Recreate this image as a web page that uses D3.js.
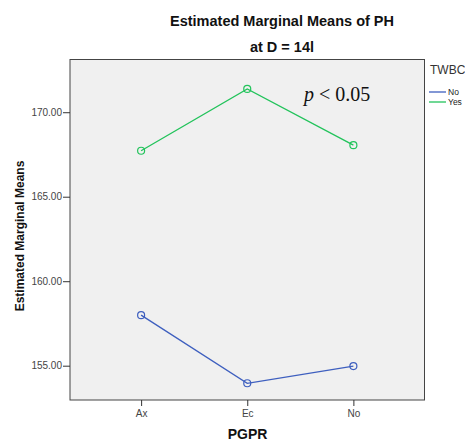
<!DOCTYPE html>
<html>
<head>
<meta charset="utf-8">
<script src="https://cdn.jsdelivr.net/npm/d3@7"></script>
<style>
  body { margin: 0; background: #fff; }
  text { font-family: Arial, "Liberation Sans", sans-serif; }
</style>
</head>
<body>
<svg id="chart" width="465" height="446"></svg>
<script>
const categories = ['Ax', 'Ec', 'No'];
const seriesNames = ['No', 'Yes'];
const seriesNo = [157.99, 153.96, 154.98];
const seriesYes = [167.72, 171.38, 168.05];
const yTicks = [155, 160, 165, 170];

const colors = {No: '#3e5fbf', Yes: '#22c35b'};

const svg = d3.select('#chart');
const plotL = 70, plotR = 424.5, plotT = 59.5, plotB = 400;

const x = d3.scalePoint().domain(categories).range([plotL, plotR]).padding(0.67);
const y = d3.scaleLinear().domain([152.97, 173.12]).range([plotB, plotT]);

svg.append('rect')
  .attr('x', plotL).attr('y', plotT)
  .attr('width', plotR - plotL).attr('height', plotB - plotT)
  .attr('fill', '#f0f0f0')
  .attr('stroke', '#444').attr('stroke-width', 1);

// axes
const yAxis = svg.append('g')
  .attr('transform', `translate(${plotL},0)`)
  .call(d3.axisLeft(y).tickValues(yTicks).tickFormat(d3.format('.2f')).tickSize(7).tickSizeOuter(0));
const xAxis = svg.append('g')
  .attr('transform', `translate(0,${plotB})`)
  .call(d3.axisBottom(x).tickSize(6).tickSizeOuter(0));

[xAxis, yAxis].forEach(g => {
  g.select('.domain').remove();
  g.selectAll('line').attr('stroke', '#333');
  g.selectAll('text').attr('fill', '#444').style('font-size', '10px')
    .style('font-family', 'Arial, "Liberation Sans", sans-serif');
});
yAxis.selectAll('text').attr('x', -8);
xAxis.selectAll('text').attr('y', 10);

// lines
const line = d3.line().x((d, i) => x(categories[i])).y(d => y(d));
const data = [
  {name: 'No', values: seriesNo},
  {name: 'Yes', values: seriesYes}
];

data.forEach(s => {
  svg.append('path')
    .attr('d', line(s.values))
    .attr('fill', 'none')
    .attr('stroke', colors[s.name])
    .attr('stroke-width', 1.3);
  svg.selectAll(null)
    .data(s.values)
    .join('circle')
    .attr('cx', (d, i) => x(categories[i]))
    .attr('cy', d => y(d))
    .attr('r', 3.5)
    .attr('fill', 'none')
    .attr('stroke', colors[s.name])
    .attr('stroke-width', 1.2);
});

// titles
svg.append('text').attr('x', 282).attr('y', 26).attr('text-anchor', 'middle')
  .style('font-size', '14.5px').style('font-weight', 'bold').attr('fill', '#111')
  .text('Estimated Marginal Means of PH');
svg.append('text').attr('x', 282).attr('y', 52).attr('text-anchor', 'middle')
  .style('font-size', '14.5px').style('font-weight', 'bold').attr('fill', '#111')
  .text('at D = 14l');

svg.append('text').attr('x', 247.5).attr('y', 439).attr('text-anchor', 'middle')
  .style('font-size', '14px').style('font-weight', 'bold').attr('fill', '#111')
  .text('PGPR');
svg.append('text')
  .attr('transform', 'translate(24,236) rotate(-90)')
  .attr('text-anchor', 'middle')
  .style('font-size', '12px').style('font-weight', 'bold').attr('fill', '#111')
  .text('Estimated Marginal Means');

// annotation
const ann = svg.append('text').attr('x', 304).attr('y', 101)
  .style('font-family', '"Liberation Serif", "DejaVu Serif", serif')
  .style('font-size', '20px').attr('fill', '#111');
ann.append('tspan').style('font-style', 'italic').text('p');
ann.append('tspan').text(' < 0.05');

// legend
svg.append('text').attr('x', 430).attr('y', 74)
  .style('font-size', '12px').attr('fill', '#333').text('TWBC');
seriesNames.forEach((n, i) => {
  const ly = 92 + i * 10;
  svg.append('line').attr('x1', 429).attr('x2', 446).attr('y1', ly).attr('y2', ly)
    .attr('stroke', colors[n]).attr('stroke-width', 1.3);
  svg.append('text').attr('x', 448).attr('y', ly + 3)
    .style('font-size', '8.5px').attr('fill', '#222').text(n);
});
</script>
</body>
</html>
